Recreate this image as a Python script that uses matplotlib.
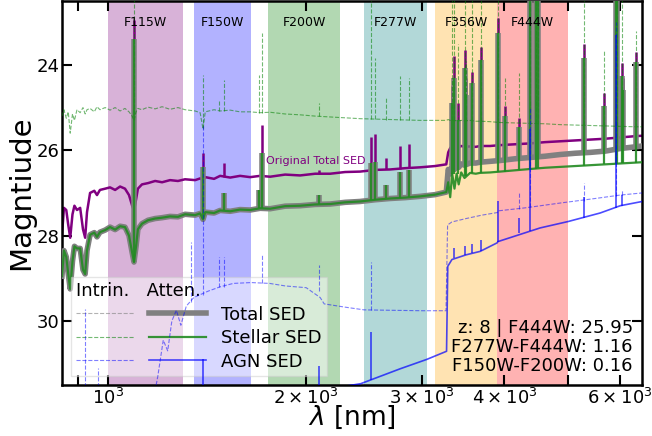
import numpy as np
import matplotlib.pyplot as plt
from matplotlib.lines import Line2D
from matplotlib.legend_handler import HandlerTuple

# observed wavelength grid (nm) for the stellar / total curves
wl_star = [851, 857, 864, 870, 876, 883, 889, 897, 907, 916,
           923, 929, 939, 953, 962, 972, 990, 1007, 1025, 1043,
           1061, 1076, 1088, 1095, 1103, 1110, 1126, 1150, 1179, 1208,
           1242, 1277, 1309, 1356, 1380, 1394, 1405, 1449, 1480, 1533,
           1587, 1644, 1702, 1763, 1858, 1958, 2064, 2175, 2292, 2415,
           2546, 2683, 2828, 2980, 3140, 3265, 3287, 3310, 3333, 3360,
           3385, 3410, 3440, 3480, 3549, 3620, 3675, 3806, 3942, 4152,
           4374, 4613, 4863, 5126, 5403, 5694, 5999, 6321, 6480]

# original total SED (purple)
mag_orig = [28.0, 27.35, 27.4, 27.75, 28.05, 27.5, 27.3, 27.4, 27.35, 27.85,
            28.05, 27.45, 27.0, 26.95, 27.05, 26.93, 26.9, 26.87, 26.93, 26.85,
            26.9, 27.05, 27.3, 27.42, 27.15, 26.9, 26.8, 26.77, 26.72, 26.75,
            26.7, 26.72, 26.68, 26.7, 26.66, 26.7, 26.63, 26.67, 26.6, 26.64,
            26.6, 26.63, 26.6, 26.62, 26.57, 26.59, 26.55, 26.55, 26.51, 26.5,
            26.46, 26.45, 26.42, 26.4, 26.37, 26.33, 26.05, 25.95, 25.9, 25.95,
            25.9, 25.93, 25.9, 25.92, 25.91, 25.92, 25.9, 25.9, 25.88, 25.86,
            25.84, 25.81, 25.79, 25.77, 25.75, 25.73, 25.7, 25.67, 25.66]

# total SED, attenuated (gray)
mag_tot_att = [28.95, 28.35, 28.5, 28.9, 29.25, 28.6, 28.25, 28.3, 28.3, 28.8,
               28.9, 28.35, 27.98, 27.93, 28.03, 27.92, 27.87, 27.8, 27.86, 27.78,
               27.8, 28.0, 28.4, 28.62, 28.25, 27.85, 27.72, 27.64, 27.6, 27.58,
               27.55, 27.56, 27.5, 27.52, 27.48, 27.62, 27.45, 27.47, 27.41, 27.43,
               27.39, 27.4, 27.36, 27.37, 27.31, 27.3, 27.27, 27.26, 27.22, 27.2,
               27.16, 27.13, 27.11, 27.08, 27.04, 26.98, 26.45, 26.55, 26.35, 26.45,
               26.33, 26.4, 26.32, 26.35, 26.3, 26.3, 26.28, 26.26, 26.24, 26.2,
               26.17, 26.14, 26.1, 26.07, 26.05, 26.02, 25.96, 25.92, 25.9]

# stellar SED, attenuated (green solid)
mag_star_att = [28.95, 28.35, 28.5, 28.9, 29.25, 28.6, 28.25, 28.3, 28.3, 28.8,
                28.9, 28.35, 27.98, 27.93, 28.03, 27.92, 27.87, 27.8, 27.86, 27.78,
                27.8, 28.0, 28.4, 28.62, 28.25, 27.85, 27.72, 27.64, 27.6, 27.58,
                27.55, 27.56, 27.5, 27.52, 27.48, 27.62, 27.45, 27.47, 27.41, 27.43,
                27.39, 27.4, 27.36, 27.37, 27.31, 27.3, 27.27, 27.26, 27.22, 27.2,
                27.16, 27.13, 27.11, 27.08, 27.04, 26.98, 26.75, 27.1, 26.55, 26.9,
                26.55, 26.8, 26.52, 26.65, 26.53, 26.55, 26.53, 26.52, 26.5, 26.47,
                26.44, 26.41, 26.39, 26.37, 26.35, 26.33, 26.31, 26.29, 26.28]

# stellar SED, intrinsic (green dashed)
mag_star_int = [25.2, 25.05, 25.25, 25.1, 25.6, 25.15, 25.3, 25.05, 25.12, 25.0,
                25.15, 25.05, 25.02, 25.1, 24.98, 25.05, 25.0, 25.06, 25.0, 25.08,
                25.02, 25.1, 25.2, 25.3, 25.1, 25.02, 25.05, 24.99, 25.03, 24.98,
                25.04, 25.0, 25.05, 25.08, 25.12, 25.5, 25.1, 25.05, 25.08, 25.06,
                25.1, 25.1, 25.12, 25.11, 25.15, 25.17, 25.2, 25.22, 25.24, 25.26,
                25.27, 25.28, 25.29, 25.3, 25.3, 25.3, 25.28, 25.3, 25.29, 25.31,
                25.3, 25.31, 25.3, 25.31, 25.3, 25.32, 25.32, 25.33, 25.35, 25.36,
                25.37, 25.38, 25.4, 25.41, 25.42, 25.43, 25.44, 25.45, 25.45]

# AGN SED, intrinsic (blue dashed)
wl_agn_int = [851, 1150, 1190, 1213, 1232, 1250, 1270, 1290, 1315, 1350,
              1420, 1480, 1550, 1650, 1760, 1860, 2000, 2100, 2130, 2300,
              2450, 2700, 3000, 3262, 3280, 3330, 3500, 3700, 3902, 3915,
              4300, 4900, 5500, 6000, 6480]
mag_agn_int = [32.5, 32.5, 31.3, 30.45, 30.7, 30.0, 29.75, 30.1, 29.65, 29.45,
               29.3, 29.2, 29.12, 29.1, 29.12, 29.18, 29.22, 29.45, 29.6, 29.68,
               29.74, 29.75, 29.76, 29.76, 27.75, 27.68, 27.6, 27.52, 27.46, 27.42,
               27.35, 27.23, 27.13, 27.05, 27.0]

# AGN SED, attenuated (blue solid)
wl_agn_att = [851, 2250, 2420, 2779, 3050, 3268, 3282, 3330, 3500, 3675,
              3900, 3912, 4534, 5000, 5594, 6000, 6480]
mag_agn_att = [32.5, 31.55, 31.47, 31.12, 30.9, 30.71, 28.72, 28.56, 28.45, 28.37,
               28.17, 28.14, 27.82, 27.67, 27.47, 27.3, 27.2]

# emission lines: wavelength, continuum level, peak
line_wl = [1094, 1394, 1501, 1696, 1714, 2093, 2510, 2546, 2645, 2779, 2868,
           3330, 3354, 3400, 3482, 3500, 3573, 3692, 3907, 4011, 4217,
           4375, 4463, 4506, 5288, 5670, 5907, 5925, 6045, 6058, 6345]
orig_base = [27.42, 26.7, 26.62, 26.6, 26.6, 26.55, 26.47, 26.46, 26.45, 26.43, 26.41,
             25.9, 25.9, 25.93, 25.92, 25.92, 25.91, 25.9, 25.88, 25.87, 25.85,
             25.84, 25.83, 25.83, 25.76, 25.73, 25.72, 25.72, 25.7, 25.7, 25.67]
orig_top = [22.95, 26.06, 26.3, 26.6, 25.4, 26.46, 25.68, 25.61, 26.18, 25.9, 25.85,
            24.5, 23.8, 24.9, 23.65, 24.3, 24.16, 23.58, 22.9, 24.97, 25.25,
            22.0, 22.0, 22.0, 23.5, 24.66, 22.0, 22.0, 23.96, 24.3, 23.7]
tot_base = [28.62, 27.62, 27.41, 27.36, 27.36, 27.27, 27.16, 27.16, 27.13, 27.11, 27.1,
            26.35, 26.35, 26.4, 26.35, 26.35, 26.3, 26.28, 26.24, 26.23, 26.2,
            26.17, 26.16, 26.15, 26.06, 26.02, 25.99, 25.99, 25.96, 25.96, 25.92]
tot_top = [23.4, 26.4, 27.0, 26.92, 26.06, 27.05, 26.3, 26.27, 26.81, 26.5, 26.46,
           24.9, 24.3, 25.3, 24.08, 24.7, 24.43, 23.88, 23.25, 25.2, 25.45,
           22.0, 22.0, 22.0, 23.85, 24.97, 22.0, 22.0, 24.27, 24.6, 23.93]
star_base = [28.62, 27.62, 27.41, 27.36, 27.36, 27.27, 27.16, 27.16, 27.13, 27.11, 27.1,
             26.55, 26.55, 26.55, 26.6, 26.6, 26.53, 26.53, 26.5, 26.5, 26.47,
             26.44, 26.43, 26.42, 26.37, 26.33, 26.32, 26.32, 26.31, 26.31, 26.29]

sint_wl = [1094, 1394, 1476, 1501, 1696, 1714, 2093, 2510, 2546, 2645, 2779, 2868,
           3330, 3354, 3400, 3482, 3500, 3573, 3692, 3907, 4011, 4217,
           4375, 4463, 4506, 5288, 5670, 5907, 5925, 6045, 6345]
sint_base = [25.3, 25.5, 25.08, 25.08, 25.12, 25.12, 25.2, 25.27, 25.27, 25.28, 25.29, 25.29,
             25.29, 25.29, 25.31, 25.31, 25.31, 25.3, 25.32, 25.34, 25.35, 25.36,
             25.37, 25.37, 25.38, 25.41, 25.43, 25.43, 25.43, 25.44, 25.45]
sint_top = [22.0, 24.23, 24.82, 24.35, 24.23, 23.25, 24.9, 22.0, 23.84, 24.75, 24.27, 24.3,
            22.0, 22.0, 23.5, 22.0, 23.9, 22.0, 22.0, 22.0, 24.3, 24.2,
            22.0, 22.0, 22.0, 22.0, 23.65, 22.0, 22.0, 22.0, 23.2]

aint_wl = [923, 967, 1337, 1394, 1476, 1501, 1714, 2093, 2510, 4217, 4375, 5288, 5907, 6045]
aint_base = [32.5, 32.5, 29.55, 29.4, 29.2, 29.2, 29.12, 29.3, 29.74, 27.38, 27.33, 27.18, 27.08, 27.05]
aint_top = [29.73, 31.1, 28.14, 25.4, 28.5, 28.5, 28.44, 28.68, 28.63, 27.0, 25.0, 26.76, 23.0, 26.92]

aatt_wl = [1394, 2093, 2510, 3354, 3482, 3573, 3692, 3907, 4217, 4375, 5288, 5907, 6045]
aatt_base = [32.5, 32.5, 31.38, 28.52, 28.45, 28.41, 28.36, 28.16, 27.95, 27.9, 27.58, 27.35, 27.3]
aatt_top = [30.9, 31.06, 30.27, 28.3, 28.25, 28.2, 28.1, 27.2, 27.58, 25.5, 27.1, 23.3, 27.05]

# NIRCam filters
filt_names = ['F115W', 'F150W', 'F200W', 'F277W', 'F356W', 'F444W']
filt_lo = [1000, 1350, 1750, 2450, 3140, 3900]
filt_hi = [1300, 1650, 2250, 3050, 3900, 5000]
filt_cols = ['purple', 'blue', 'green', 'teal', 'orange', 'red']

info = 'z: 8 | F444W: 25.95\nF277W-F444W: 1.16\nF150W-F200W: 0.16'

fig, ax = plt.subplots(figsize=(6.52, 4.36), dpi=100)
fig.subplots_adjust(left=0.095, right=0.985, top=0.998, bottom=0.117)

for name, lo, hi, c in zip(filt_names, filt_lo, filt_hi, filt_cols):
    ax.axvspan(lo, hi, color=c, alpha=0.3, lw=0, zorder=0)
    ax.text(np.sqrt(lo * hi), 23.0, name, ha='center', va='center', fontsize=9, zorder=10)

ax.plot(wl_star, mag_orig, color='purple', lw=1.8, zorder=2)
ax.vlines(line_wl, orig_base, orig_top, color='purple', lw=1.8, zorder=2)

l_tot, = ax.plot(wl_star, mag_tot_att, color='gray', lw=4, zorder=3)
ax.vlines(line_wl, tot_base, tot_top, color='gray', lw=4, zorder=3)

l_sint, = ax.plot(wl_star, mag_star_int, color='green', ls='--', lw=0.8, alpha=0.55, zorder=4)
ax.vlines(sint_wl, sint_base, sint_top, color='green', linestyles='--', lw=0.8, alpha=0.55, zorder=4)

l_satt, = ax.plot(wl_star, mag_star_att, color='forestgreen', lw=1.6, alpha=0.9, zorder=5)
ax.vlines(line_wl, star_base, tot_top, color='forestgreen', lw=1.6, alpha=0.9, zorder=5)

l_aint, = ax.plot(wl_agn_int, mag_agn_int, color='blue', ls='--', lw=0.8, alpha=0.5, zorder=6)
ax.vlines(aint_wl, aint_base, aint_top, color='blue', linestyles='--', lw=0.8, alpha=0.5, zorder=6)

l_aatt, = ax.plot(wl_agn_att, mag_agn_att, color='blue', lw=1.2, alpha=0.7, zorder=7)
ax.vlines(aatt_wl, aatt_base, aatt_top, color='blue', lw=1.2, alpha=0.7, zorder=7)

ax.text(1738, 26.25, 'Original Total SED', color='purple', fontsize=8, va='center')
ax.text(0.984, 0.025, info, transform=ax.transAxes, ha='right', va='bottom',
        multialignment='right', fontsize=13, linespacing=1.1)

ax.set_xscale('log')
ax.set_xlim(851, 6480)
ax.set_ylim(31.5, 22.5)
ax.set_yticks([24, 26, 28, 30])
ax.set_xlabel(r'$\lambda$ [nm]', fontsize=19, labelpad=-3)
ax.set_ylabel('Magntiude', fontsize=21, labelpad=1)
ax.tick_params(which='both', direction='in', top=True, right=True, length=7, width=1.5,
               labelsize=13, pad=2)
for s in ax.spines.values():
    s.set_linewidth(1.8)

h_tint = Line2D([], [], color='gray', ls='--', lw=0.8, alpha=0.6)
ax.legend([(h_tint, l_tot), (l_sint, l_satt), (l_aint, l_aatt)],
          ['Total SED', 'Stellar SED', 'AGN SED'],
          handler_map={tuple: HandlerTuple(ndivide=None, pad=0.8)},
          handlelength=7.2, title='Intrin.   Atten.', title_fontsize=13, fontsize=13,
          loc='lower left', framealpha=0.5, fancybox=False, labelspacing=0.3,
          borderpad=0.3, alignment='left')

fig.savefig('out.png', dpi=100)
